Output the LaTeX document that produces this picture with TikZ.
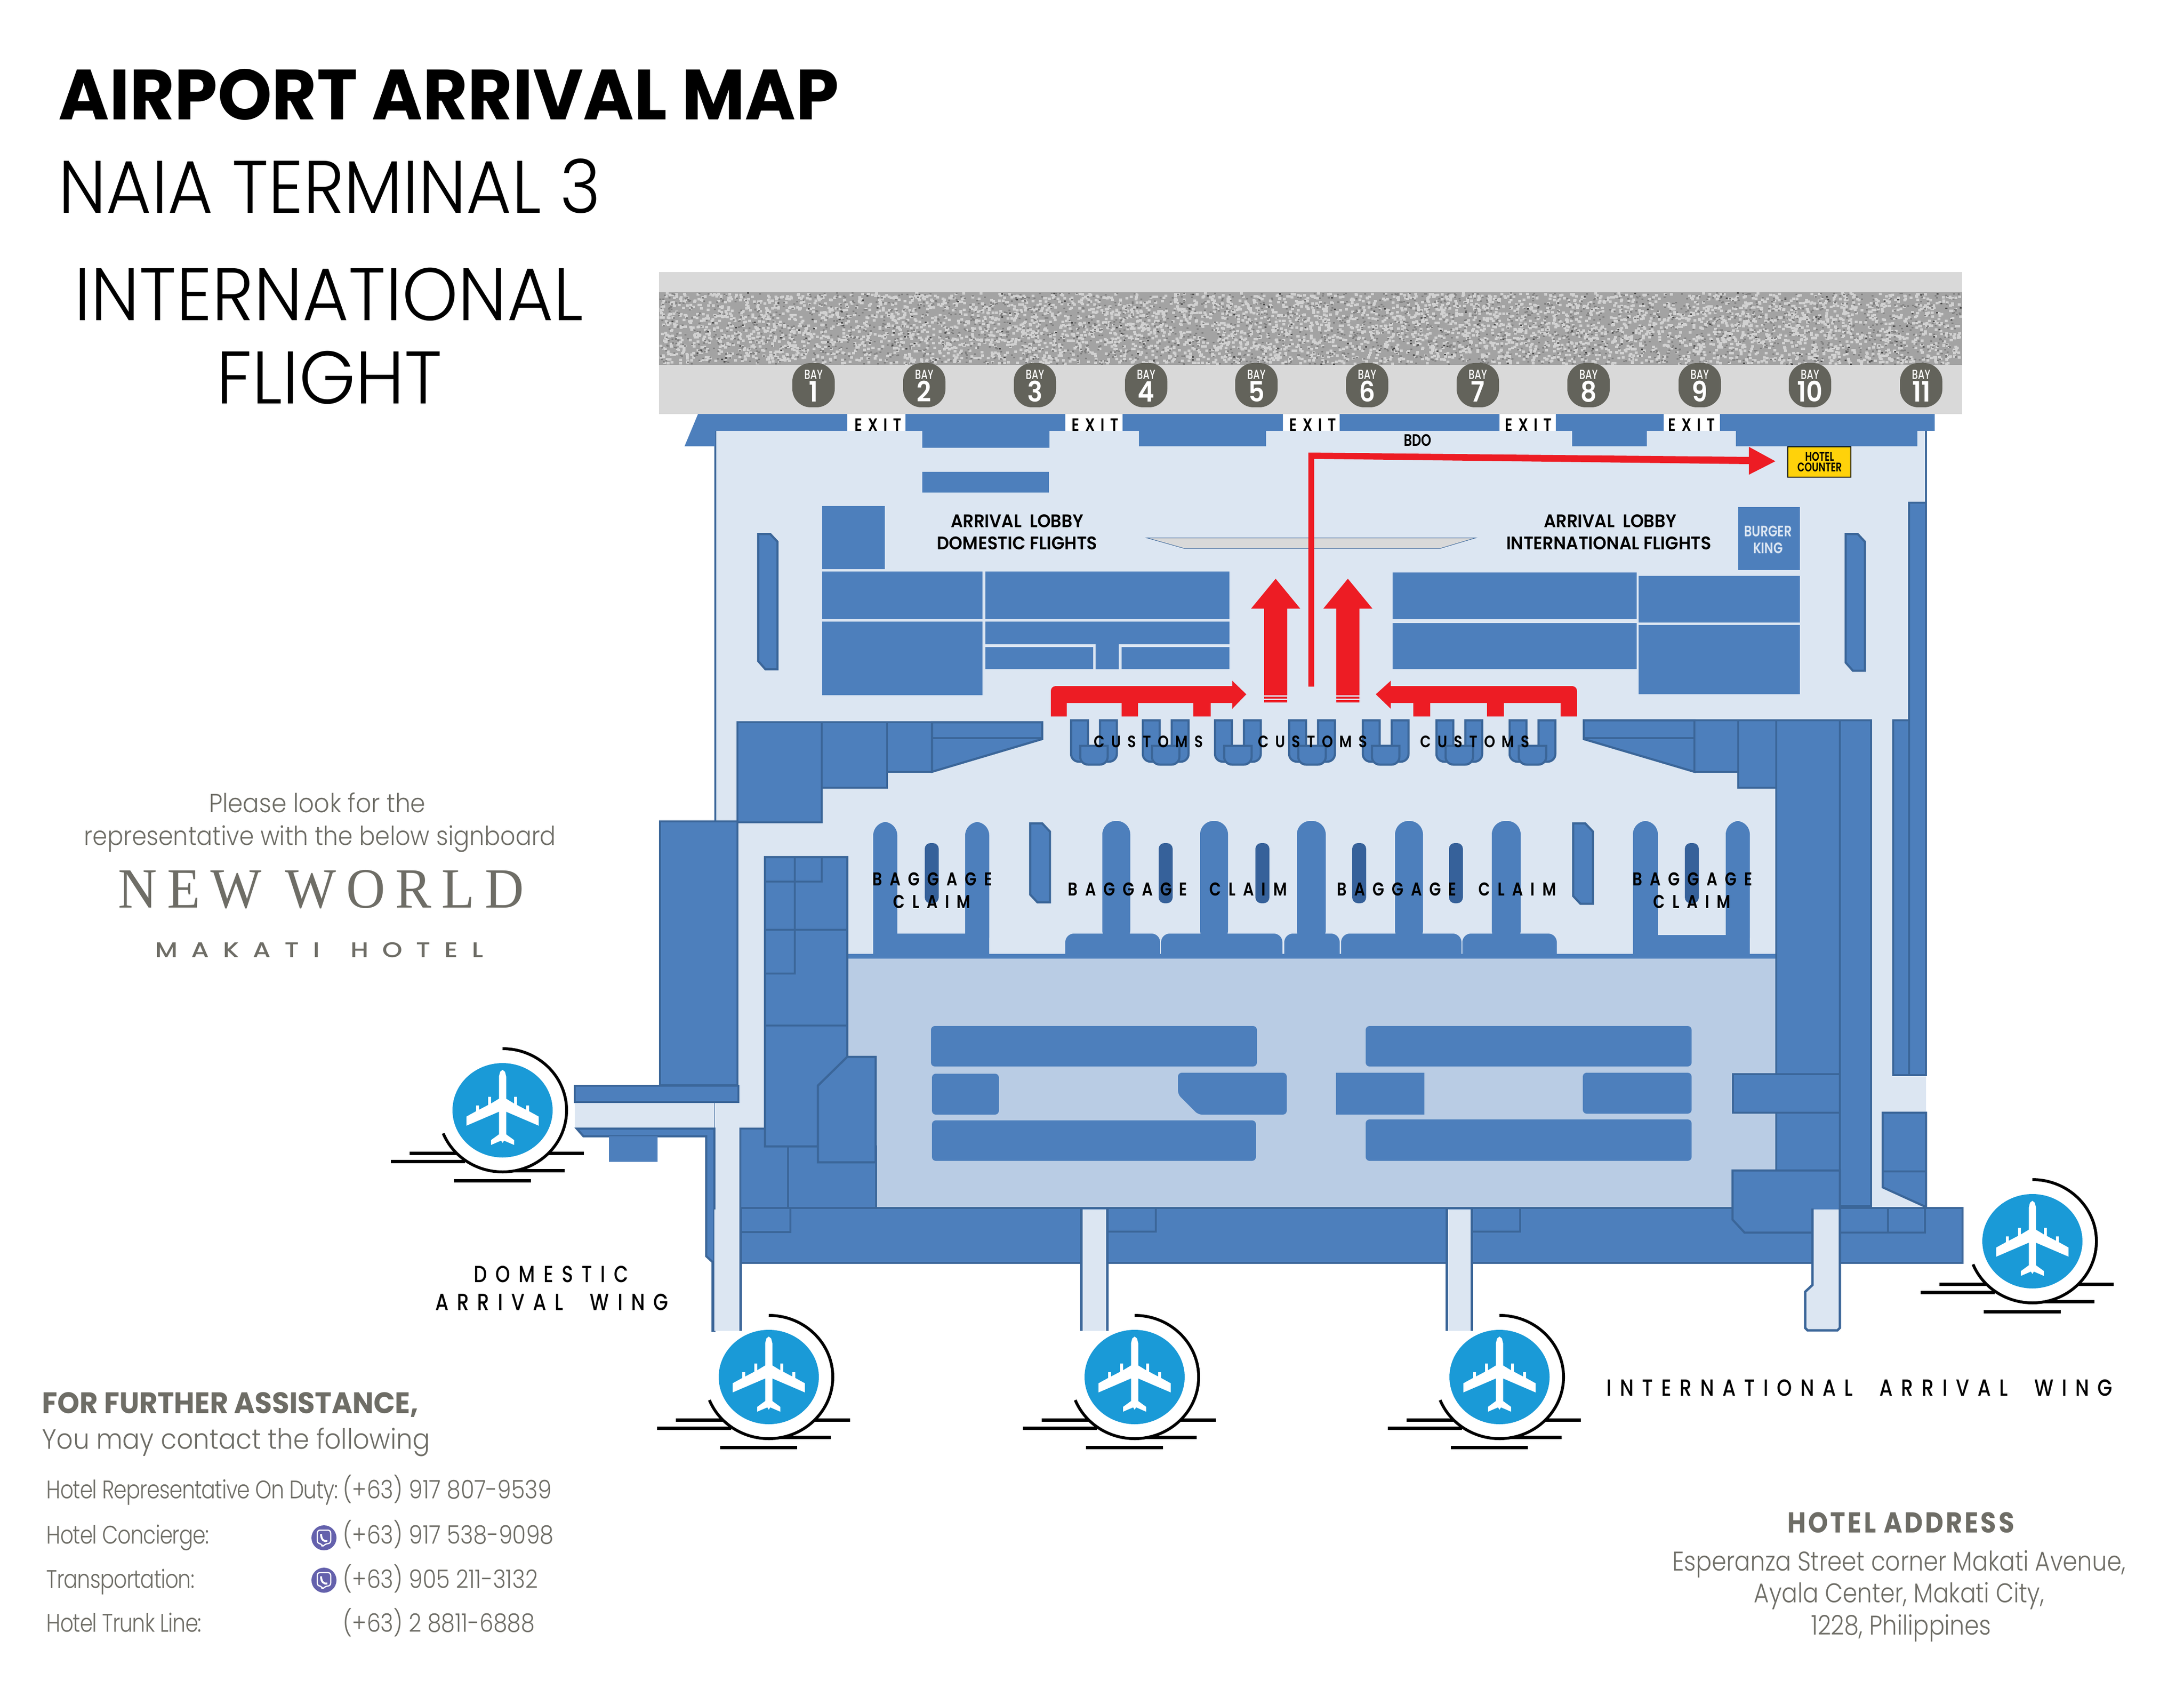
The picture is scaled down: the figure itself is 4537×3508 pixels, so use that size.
\documentclass[tikz,border=0pt]{standalone}
\usepackage{fontspec}
\usetikzlibrary{positioning}
\newfontfamily\futbold{Poppins Bold}
\newfontfamily\futsemi{Poppins SemiBold}
\newfontfamily\futmed{Poppins Medium}
\newfontfamily\futlight{Poppins Light}
\newfontfamily\newworld{Liberation Serif}
\newcommand{\mapfont}[4]{#1\fontsize{#2}{#2}\selectfont\addfontfeature{FakeStretch=#3,LetterSpace=#4}}

\definecolor{planblue}{HTML}{4D7FBC}
\definecolor{planedge}{HTML}{3B6699}
\definecolor{floorlight}{HTML}{DCE6F2}
\definecolor{hallblue}{HTML}{B9CCE4}
\definecolor{slitblue}{HTML}{36619A}
\definecolor{mapred}{HTML}{ED1C24}
\definecolor{bandgray}{HTML}{D9D9D9}
\definecolor{baygray}{HTML}{63635B}
\definecolor{skyblue}{HTML}{1A9AD7}
\definecolor{hotelyellow}{HTML}{FFD20A}
\definecolor{textgray}{HTML}{6E6D66}
\definecolor{vibercolor}{HTML}{6461AC}

\tikzstyle{wall} = [fill=planblue, draw=planedge, line width=0.45mm, line join=miter]
\tikzstyle{block} = [fill=planblue]
\tikzstyle{belt} = [fill=planblue, rounded corners=2.8mm]
\tikzstyle{slit} = [fill=slitblue, rounded corners=1.2mm]
\tikzstyle{counter} = [fill=planblue, rounded corners=0.8mm]
\tikzstyle{route} = [fill=mapred]
\tikzstyle{maptext} = [inner sep=0pt, text=black]
\tikzstyle{graytext} = [inner sep=0pt, text=textgray]
\tikzstyle{sideline} = [planedge, line width=0.5mm]

\tikzset{
  planeicon/.pic={
    \draw[black, line width=0.7mm] (-193,89) -- (169,89);
    \draw[black, line width=0.7mm] (-232,106) -- (-78,106);
    \draw[black, line width=0.7mm] (-20,125) -- (129,125);
    \draw[black, line width=0.7mm] (-101,146) -- (59,146);
    \fill[white] (133,0) arc[start angle=0, end angle=180, x radius=133, y radius=128] -- cycle;
    \draw[black, line width=0.6mm] (0,-128) arc[start angle=270, end angle=518, x radius=133, y radius=128];
    \fill[skyblue] (0,0) ellipse[x radius=104, y radius=98];
    \fill[white] (0,-84) -- (5,-80) -- (7.5,-70) -- (7.5,-24) -- (24,-14) -- (24,-28) -- (30,-28) -- (30,-11)
      -- (49,-1) -- (49,-10) -- (55,-10) -- (55,2) -- (75,13) -- (75,32) -- (7.5,3) -- (7.5,50) -- (24,62) -- (24,72)
      -- (3,63) -- (0,68) -- (-3,63) -- (-24,72) -- (-24,62) -- (-7.5,50) -- (-7.5,3) -- (-75,32) -- (-75,13)
      -- (-55,2) -- (-55,-10) -- (-49,-10) -- (-49,-1) -- (-30,-11) -- (-30,-28) -- (-24,-28) -- (-24,-14)
      -- (-7.5,-24) -- (-7.5,-70) -- (-5,-80) -- cycle;
  },
  viberlogo/.pic={
    \fill[vibercolor] (0,0) ellipse[x radius=26, y radius=26];
    \draw[white, line width=0.25mm, rounded corners=0.6mm] (-4,12) -- (-14,12) -- (-14,-16) -- (14,-16) -- (14,12) -- (3,12) -- (-4,20) -- cycle;
    \draw[white, line width=0.4mm] (-6,-8) .. controls (-6,4) and (0,8) .. (7,7);
  }
}

\begin{document}
\begin{tikzpicture}[x=0.1mm, y=-0.1mm]
  \useasboundingbox (0,0) rectangle (4537,3508);

  % Draw the road band.
  \fill[bandgray] (1369,565) rectangle (4076,860);
  \fill[black!36] (1369,607) rectangle (4076,758);
  \pgfmathsetseed{11}
  \foreach \i in {1,...,5000} { \fill[black!18] (1369+rnd*2701,607+rnd*146) rectangle ++(6,5); }
  \foreach \i in {1,...,2400} { \fill[black!50] (1369+rnd*2703,607+rnd*148) rectangle ++(4,3); }
  \foreach \i in {1,...,200} { \fill[black!70] (1369+rnd*2703,607+rnd*148) rectangle ++(4,3); }

  % Draw the floors.
  \fill[floorlight] (1486,895) -- (4001,895) -- (4001,2510) -- (1538,2510) -- (1538,2764) -- (1484,2764)
    -- (1484,2342) -- (1194,2342) -- (1194,2289) -- (1534,2289) -- (1534,1706) -- (1486,1706) -- cycle;
  \fill[hallblue] (1760,1991) rectangle (3690,2509);
  \fill[block] (1760,1981) rectangle (3690,1991);
  \draw[planedge, line width=0.4mm] (1486,895) -- (1486,1706);
  \draw[planedge, line width=0.4mm] (4001,895) -- (4001,1044);
  \draw[planedge, line width=0.1mm] (1484,2289) -- (1484,2342);

  % Draw the front wall with its exits.
  \fill[block] (1450,860) -- (1760,860) -- (1760,895) -- (1486,895) -- (1486,927) -- (1422,927) -- cycle;
  \fill[block] (1881,860) -- (2213,860) -- (2213,895) -- (2180,895) -- (2180,930) -- (1916,930) -- (1916,895) -- (1881,895) -- cycle;
  \fill[block] (2332,860) -- (2665,860) -- (2665,895) -- (2630,895) -- (2630,927) -- (2366,927) -- (2366,895) -- (2332,895) -- cycle;
  \fill[block] (2783,860) rectangle (3115,895);
  \fill[block] (3232,860) -- (3456,860) -- (3456,895) -- (3421,895) -- (3421,927) -- (3266,927) -- (3266,895) -- (3232,895) -- cycle;
  \fill[block] (3573,860) -- (4019,860) -- (4019,895) -- (3983,895) -- (3983,927) -- (3606,927) -- (3606,895) -- (3573,895) -- cycle;
  \fill[block] (1916,980) rectangle (2179,1023);

  % Draw the lobby blocks.
  \fill[block] (1708,1051) rectangle (1838,1182);
  \fill[block] (1708,1187) rectangle (2041,1286);
  \fill[block] (1708,1291) rectangle (2041,1444);
  \fill[block] (2047,1187) rectangle (2554,1286);
  \fill[block] (2047,1291) -- (2554,1291) -- (2554,1338) -- (2324,1338) -- (2324,1390) -- (2276,1390) -- (2276,1338) -- (2047,1338) -- cycle;
  \fill[block] (2047,1344) rectangle (2271,1390);
  \fill[block] (2330,1344) rectangle (2554,1390);
  \fill[block] (3611,1053) rectangle (3739,1184);
  \fill[block] (2893,1189) rectangle (3400,1286);
  \fill[block] (2893,1294) rectangle (3400,1390);
  \fill[block] (3404,1196) rectangle (3739,1293);
  \fill[block] (3404,1298) rectangle (3739,1442);
  \filldraw[fill=bandgray, draw=planedge, line width=0.1mm] (2382,1117) -- (3066,1117) -- (2992,1139) -- (2460,1139) -- cycle;
  \draw[wall] (1575,1109) -- (1600,1109) -- (1615,1125) -- (1615,1390) -- (1590,1390) -- (1575,1373) -- cycle;
  \draw[wall] (3834,1109) -- (3859,1109) -- (3874,1125) -- (3874,1393) -- (3849,1393) -- (3834,1376) -- cycle;

  % Draw the customs wings.
  \draw[wall] (1532,1500) rectangle (1707,1708);
  \draw[wall] (1707,1500) rectangle (1843,1636);
  \draw[wall] (1843,1500) rectangle (1936,1603);
  \draw[wall] (1936,1500) -- (2165,1500) -- (2165,1535) -- (1936,1603) -- cycle;
  \draw[planedge, line width=0.45mm] (1936,1533) -- (2165,1533);
  \draw[wall] (3290,1496) -- (3520,1496) -- (3520,1603) -- (3290,1535) -- cycle;
  \draw[planedge, line width=0.45mm] (3290,1533) -- (3520,1533);
  \draw[wall] (3520,1496) rectangle (3611,1603);
  \draw[wall] (3611,1496) rectangle (3690,1636);

  % Draw the customs desks.
  \foreach \x in {2225,2374,2524,2678,2831,2984,3136} {
    \draw[wall] (\x,1496) [rounded corners=1.6mm] -- (\x,1582) -- (\x+95,1582) [sharp corners] -- (\x+95,1496) -- (\x+60,1496)
      -- (\x+60,1549) -- (\x+35,1549) -- (\x+35,1496) -- cycle;
    \draw[wall] (\x+19,1549) [rounded corners=1.6mm] -- (\x+19,1588) -- (\x+76,1588) [sharp corners] -- (\x+76,1549) -- cycle;
  }

  % Draw the baggage belts.
  \fill[belt] (1814,1707) rectangle (1864,1975);
  \fill[belt] (2005,1707) rectangle (2055,1975);
  \fill[block] (1814,1939) rectangle (2055,1981);
  \fill[belt] (3392,1705) rectangle (3444,1975);
  \fill[belt] (3585,1705) rectangle (3635,1975);
  \fill[block] (3392,1942) rectangle (3635,1981);
  \foreach \a/\b/\c/\d in {2290/2348/2213/2410, 2493/2551/2412/2664, 2694/2754/2668/2783, 2898/2956/2786/3036, 3099/3159/3038/3234} {
    \fill[belt] (\a,1705) rectangle (\b,1960);
    \fill[block] (\c,1981) [rounded corners=1.8mm] -- (\c,1939) -- (\d,1939) [sharp corners] -- (\d,1981) -- cycle;
  }
  \foreach \x in {1921,2407,2608,2809,3010,3500} {
    \fill[slit] (\x,1751) rectangle (\x+29,1876);
  }
  \draw[wall] (2140,1710) -- (2165,1710) -- (2181,1727) -- (2181,1874) -- (2155,1874) -- (2140,1858) -- cycle;
  \draw[wall] (3268,1710) -- (3293,1710) -- (3309,1727) -- (3309,1877) -- (3283,1877) -- (3268,1861) -- cycle;

  % Draw the baggage hall counters.
  \fill[counter] (1934,2131) rectangle (2611,2215);
  \fill[counter] (1936,2230) rectangle (2075,2315);
  \fill[counter] (2447,2228) -- (2673,2228) -- (2673,2315) -- (2489,2315) -- (2447,2273) -- cycle;
  \fill[counter] (1936,2327) rectangle (2609,2411);
  \fill[counter] (2837,2131) rectangle (3514,2215);
  \fill[block] (2775,2228) rectangle (2959,2315);
  \fill[counter] (3288,2228) rectangle (3514,2313);
  \fill[counter] (2837,2325) rectangle (3514,2411);

  % Draw the arrival corridors.
  \draw[wall] (1198,2344) -- (1212,2360) -- (1467,2360) -- (1467,2609) -- (1480,2621) -- (1480,2764) -- (1484,2764) -- (1484,2344) -- cycle;
  \fill[block] (1265,2360) rectangle (1366,2413);
  \draw[wall] (1371,1706) rectangle (1532,2254);
  \draw[wall] (1194,2255) rectangle (1534,2289);

  % Draw the left hand rooms.
  \draw[wall] (1538,2344) -- (1589,2344) -- (1589,2381) -- (1820,2381) -- (1820,2509) -- (1538,2509) -- cycle;
  \draw[wall] (1589,1780) -- (1760,1780) -- (1760,2196) -- (1699,2255) -- (1699,2381) -- (1589,2381) -- cycle;
  \draw[wall] (1760,2195) -- (1819,2195) -- (1819,2414) -- (1699,2414) -- (1699,2255) -- cycle;
  \draw[planedge, line width=0.45mm] (1651,1780) -- (1651,2022) -- (1589,2022);
  \draw[planedge, line width=0.45mm] (1707,1780) -- (1707,1831) -- (1589,1831);
  \draw[planedge, line width=0.45mm] (1589,1931) -- (1760,1931);
  \draw[planedge, line width=0.45mm] (1589,2130) -- (1760,2130);
  \draw[planedge, line width=0.45mm] (1637,2381) -- (1637,2509);

  % Draw the right hand rooms.
  \draw[wall] (3690,1496) rectangle (3822,2431);
  \draw[wall] (3822,1496) rectangle (3887,2505);
  \draw[wall] (3933,1496) rectangle (3966,2233);
  \draw[wall] (3966,1044) rectangle (4001,2233);
  \draw[wall] (3600,2231) rectangle (3822,2311);
  \draw[wall] (3911,2311) -- (4001,2311) -- (4001,2507) -- (3911,2466) -- cycle;
  \draw[planedge, line width=0.45mm] (3911,2433) -- (4001,2433);

  % Draw the bottom bar.
  \draw[wall] (1538,2509) rectangle (4077,2623);
  \draw[wall] (1538,2509) rectangle (1642,2559);
  \draw[wall] (3599,2431) -- (3822,2431) -- (3822,2505) -- (3822,2560) -- (3624,2560) -- (3599,2533) -- cycle;
  \draw[wall] (3822,2509) -- (3922,2509) -- (3922,2560) -- (3822,2560) -- cycle;
  \draw[wall] (3922,2509) -- (3999,2509) -- (3999,2560) -- (3922,2560) -- cycle;
  \draw[wall] (2300,2509) rectangle (2401,2558);
  \draw[wall] (3057,2509) rectangle (3158,2558);
  \fill[floorlight] (1484,2512) rectangle (1538,2764);
  \fill[floorlight] (2246,2512) rectangle (2300,2764);
  \fill[floorlight] (3005,2512) rectangle (3057,2764);
  \fill[floorlight] (3766,2512) -- (3821,2512) -- (3821,2758) -- (3817,2763) -- (3755,2763) -- (3750,2758) -- (3750,2683) -- (3766,2669) -- cycle;
  \draw[sideline] (1538,2510) -- (1538,2764);
  \draw[sideline] (2246,2510) -- (2246,2764);
  \draw[sideline] (2300,2510) -- (2300,2764);
  \draw[sideline] (3005,2510) -- (3005,2764);
  \draw[sideline] (3057,2510) -- (3057,2764);
  \draw[sideline] (3765,2510) -- (3765,2669) -- (3750,2683) -- (3750,2758) -- (3755,2763) -- (3817,2763) -- (3822,2758) -- (3822,2510);

  % Draw the red routes.
  \fill[route] (2718,1426) -- (2718,940) -- (3633,949) -- (3633,928) -- (3688,958) -- (3633,986) -- (3633,964) -- (2730,953) -- (2730,1426) -- cycle;
  \foreach \x in {2650,2800} {
    \fill[route] (\x-24,1444) -- (\x-24,1264) -- (\x-51,1264) -- (\x,1202) -- (\x+51,1264) -- (\x+24,1264) -- (\x+24,1444) -- cycle;
    \fill[route] (\x-24,1447) rectangle (\x+24,1451);
    \fill[route] (\x-24,1454) rectangle (\x+24,1459);
  }
  \fill[route] (2183,1488) [rounded corners=1mm] -- (2183,1425) [sharp corners] -- (2560,1425) -- (2560,1414) -- (2589,1442) -- (2560,1472) -- (2560,1460)
    -- (2515,1460) -- (2515,1488) -- (2479,1488) -- (2479,1460) -- (2364,1460) -- (2364,1488) -- (2330,1488) -- (2330,1460) -- (2216,1460) -- (2216,1488) -- cycle;
  \fill[route] (3276,1488) [rounded corners=1mm] -- (3276,1425) [sharp corners] -- (2889,1425) -- (2889,1414) -- (2858,1442) -- (2889,1472) -- (2889,1460)
    -- (2936,1460) -- (2936,1488) -- (2971,1488) -- (2971,1460) -- (3089,1460) -- (3089,1488) -- (3124,1488) -- (3124,1460) -- (3242,1460) -- (3242,1488) -- cycle;

  % Draw the bays.
  \foreach \n/\x in {1/1690,2/1920,3/2150,4/2381,5/2610,6/2840,7/3070,8/3300,9/3531,10/3760,11/3991} {
    \node[fill=baygray, rounded corners=3.8mm, minimum width=8.8mm, minimum height=9.2mm, inner sep=0pt] (bay\n) at (\x,800) {};
    \node[inner sep=0pt, text=white, font=\mapfont{\futmed}{7.8}{.72}{0}] (baytag\n) at (\x,778) {BAY};
    \node[inner sep=0pt, text=white, font=\mapfont{\futsemi}{16.6}{.9}{0}] (baynum\n) at (\x,813) {\n};
  }

  % Draw the exits and lobby labels.
  \foreach \n/\x in {1/1824,2/2275,3/2727,4/3175,5/3514} {
    \node[maptext, font=\mapfont{\futsemi}{10.6}{.8}{31}] (exit\n) at (\x,882) {EXIT};
  }
  \node[maptext, font=\mapfont{\futsemi}{9.8}{.78}{0}] (bdo) at (2945,914) {BDO};
  \node[maptext, font=\mapfont{\futsemi}{10.8}{.93}{0}] (lobbya) at (2113,1082) {ARRIVAL\ \ LOBBY};
  \node[maptext, font=\mapfont{\futsemi}{10.8}{.94}{0}] (domflights) at (2113,1128) {DOMESTIC FLIGHTS};
  \node[maptext, font=\mapfont{\futsemi}{10.8}{.93}{0}] (lobbyb) at (3345,1082) {ARRIVAL\ \ LOBBY};
  \node[maptext, font=\mapfont{\futsemi}{10.8}{.94}{0}] (intflights) at (3342,1128) {INTERNATIONAL FLIGHTS};
  \node[inner sep=0pt, text=floorlight, font=\mapfont{\futsemi}{9}{.8}{0}] (burger) at (3673,1103) {BURGER};
  \node[inner sep=0pt, text=floorlight, font=\mapfont{\futsemi}{9}{.8}{0}] (king) at (3673,1138) {KING};
  \filldraw[fill=hotelyellow, draw=black, line width=0.2mm] (3714,928) rectangle (3845,991);
  \node[maptext, font=\mapfont{\futsemi}{7.4}{.75}{0}] (hotel) at (3780,948) {HOTEL};
  \node[maptext, font=\mapfont{\futsemi}{7.4}{.75}{0}] (counter) at (3780,970) {COUNTER};

  \foreach \n/\x in {1/2386,2/2727,3/3064} {
    \node[maptext, font=\mapfont{\futsemi}{9.8}{.85}{40}] (customs\n) at (\x,1540) {CUSTOMS};
  }
  \node[maptext, font=\mapfont{\futsemi}{11}{.82}{40}] (claima) at (1937,1826) {BAGGAGE};
  \node[maptext, font=\mapfont{\futsemi}{11}{.82}{40}] (claimb) at (1936,1873) {CLAIM};
  \node[maptext, font=\mapfont{\futsemi}{11}{.82}{40}] (claimc) at (3516,1826) {BAGGAGE};
  \node[maptext, font=\mapfont{\futsemi}{11}{.82}{40}] (claimd) at (3515,1873) {CLAIM};
  \node[maptext, font=\mapfont{\futsemi}{11}{.82}{40}] (claime) at (2446,1847) {BAGGAGE\ \ CLAIM};
  \node[maptext, font=\mapfont{\futsemi}{11}{.82}{40}] (claimf) at (3005,1847) {BAGGAGE\ \ CLAIM};

  % Draw the planes.
  \pic at (1044,2306) {planeicon};
  \pic at (1597,2860) {planeicon};
  \pic at (2357,2860) {planeicon};
  \pic at (3115,2860) {planeicon};
  \pic at (4222,2578) {planeicon};

  \node[maptext, font=\mapfont{\futmed}{13.8}{.8}{36}] (domwinga) at (1145,2647) {DOMESTIC};
  \node[maptext, font=\mapfont{\futmed}{13.8}{.82}{36}] (domwingb) at (1146,2705) {ARRIVAL\ \ WING};
  \node[maptext, font=\mapfont{\futmed}{13.8}{.82}{36}] (intwing) at (3863,2883) {INTERNATIONAL\ \ ARRIVAL\ \ WING};

  % Draw the titles.
  \node[maptext, anchor=base west, font=\mapfont{\futbold}{42}{.97}{0}] (title) at (121,249) {AIRPORT ARRIVAL MAP};
  \node[maptext, anchor=base west, font=\mapfont{\futlight}{44}{.935}{0}] (terminal) at (121,443) {NAIA TERMINAL 3};
  \node[maptext, anchor=base, font=\mapfont{\futlight}{44}{.955}{0}] (flighta) at (683,666) {INTERNATIONAL};
  \node[maptext, anchor=base, font=\mapfont{\futlight}{44}{.97}{0}] (flightb) at (684,839) {FLIGHT};

  % Draw the signboard text.
  \node[graytext, anchor=base, font=\mapfont{\futlight}{15.5}{.92}{0}] (looka) at (659,1687) {Please look for the};
  \node[graytext, anchor=base, font=\mapfont{\futlight}{15.5}{.9}{0}] (lookb) at (665,1755) {representative with the below signboard};
  \node[graytext, anchor=base, font=\mapfont{\newworld}{33.6}{.95}{18}] (newworld) at (667,1885) {NEW WORLD};
  \node[graytext, anchor=base, font=\mapfont{\futmed}{12.6}{1.2}{65}] (makati) at (663,1988) {MAKATI\hspace{6pt} HOTEL};

  % Draw the contact block.
  \node[graytext, anchor=base west, font=\mapfont{\futbold}{17.5}{.95}{0}] (assista) at (87,2935) {FOR FURTHER ASSISTANCE,};
  \node[graytext, anchor=base west, font=\mapfont{\futlight}{16.5}{.92}{0}] (assistb) at (87,3009) {You may contact the following};
  \node[graytext, anchor=base west, font=\mapfont{\futlight}{15}{.82}{-2}] (duty) at (96,3112) {Hotel Representative On Duty:};
  \node[graytext, anchor=base west, font=\mapfont{\futlight}{15}{.82}{-2}] (concierge) at (96,3206) {Hotel Concierge:};
  \node[graytext, anchor=base west, font=\mapfont{\futlight}{15}{.82}{-2}] (transport) at (96,3298) {Transportation:};
  \node[graytext, anchor=base west, font=\mapfont{\futlight}{15}{.82}{-2}] (trunk) at (96,3389) {Hotel Trunk Line:};
  \node[graytext, anchor=base west, font=\mapfont{\futlight}{15}{.87}{0}] (phonea) at (712,3112) {(+63) 917 807-9539};
  \node[graytext, anchor=base west, font=\mapfont{\futlight}{15}{.87}{0}] (phoneb) at (712,3206) {(+63) 917 538-9098};
  \node[graytext, anchor=base west, font=\mapfont{\futlight}{15}{.87}{0}] (phonec) at (712,3298) {(+63) 905 211-3132};
  \node[graytext, anchor=base west, font=\mapfont{\futlight}{15}{.87}{0}] (phoned) at (712,3389) {(+63) 2 8811-6888};
  \pic at (673,3194) {viberlogo};
  \pic at (673,3282) {viberlogo};

  % Draw the address block.
  \node[graytext, anchor=base, font=\mapfont{\futbold}{17}{.88}{8}] (addrhead) at (3949,3183) {HOTEL ADDRESS};
  \node[graytext, anchor=base, font=\mapfont{\futlight}{16}{.86}{0}] (addra) at (3945,3262) {Esperanza Street corner Makati Avenue,};
  \node[graytext, anchor=base, font=\mapfont{\futlight}{16}{.86}{0}] (addrb) at (3945,3328) {Ayala Center, Makati City,};
  \node[graytext, anchor=base, font=\mapfont{\futlight}{16}{.86}{0}] (addrc) at (3949,3395) {1228, Philippines};
\end{tikzpicture}
\end{document}
